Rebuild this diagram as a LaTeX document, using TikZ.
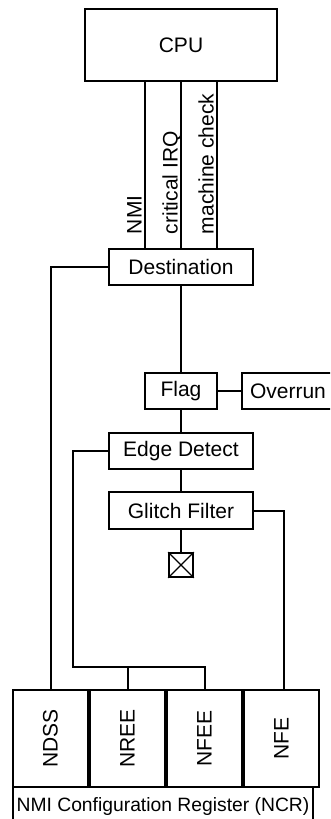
\documentclass[tikz,border=0pt]{standalone}
\usepackage{fontspec}
\setmainfont{Liberation Sans}
\usepackage{graphicx}
\usepackage{tikz}
\usetikzlibrary{positioning,calc}

\begin{document}
\begin{tikzpicture}[x=1pt,y=-1pt,line width=2pt,
  blk/.style={draw,rectangle,inner sep=0pt,minimum width=144pt,minimum height=36pt,font=\fontsize{21}{25}\selectfont},
  sig/.style={rotate=90,anchor=base west,inner sep=0pt,font=\fontsize{21}{25}\selectfont},
  bit/.style={draw,rectangle,inner sep=0pt,minimum width=75pt,minimum height=97pt,font=\fontsize{21}{25}\selectfont}]
  \path[use as bounding box,clip] (0,0) rectangle (330,819);
  % blocks
  \node[blk,minimum width=192pt,minimum height=72pt] (cpu) at (181,45) {CPU};
  \node[blk] (dest) at (181,267) {Destination};
  \node[blk,minimum width=72.5pt] (flag) at (181,391) {Flag};
  \node[blk,minimum width=0pt,inner xsep=8pt,text width=110pt,align=left,anchor=west] (overrun) at (241,391) {Overrun};
  \node[blk] (edge) at (181,451) {Edge Detect};
  \node[blk,minimum height=37pt] (glitch) at (181,510.5) {Glitch Filter};
  \node[draw,rectangle,inner sep=0pt,minimum size=24pt,line width=1.6pt] (pin) at (181,565) {};
  \draw[line width=1.3pt] (pin.north west) -- (pin.south east) (pin.north east) -- (pin.south west);
  % register
  \node[bit] (ndss) at (50.5,738.5) {\rotatebox{90}{NDSS}};
  \node[bit,right=0pt of ndss] (nree) {\rotatebox{90}{NREE}};
  \node[bit,right=0pt of nree] (nfee) {\rotatebox{90}{NFEE}};
  \node[bit,right=0pt of nfee] (nfe) {\rotatebox{90}{NFE}};
  \node[draw,rectangle,inner sep=0pt,minimum width=300pt,minimum height=39pt,
    font=\fontsize{19.3}{23}\selectfont] (ncr) at (163,806.5) {NMI Configuration Register (NCR)};
  % cpu signals
  \foreach \dx/\lbl in {-36/NMI,0/critical IRQ,36/machine check}{
    \draw ([xshift=\dx pt]dest.north) -- ([xshift=\dx pt]dest.north |- cpu.south);
    \node[sig] at ([xshift=\dx pt-3.5pt,yshift=13pt]dest.north) {\lbl};
  }
  % connectors
  \draw (dest.south) -- (flag.north);
  \draw (flag.east) -- (overrun.west);
  \draw (flag.south) -- (edge.north);
  \draw (edge.south) -- (glitch.north);
  \draw (glitch.south) -- (pin.north);
  \draw (dest.west) -| (ndss.north);
  \coordinate (bus) at (73,667);
  \draw (edge.west) -| (bus) -| (nfee.north);
  \draw (nree.north) -- (nree.north |- bus);
  \draw (glitch.east) -| ([xshift=2pt]nfe.north);
\end{tikzpicture}
\end{document}
